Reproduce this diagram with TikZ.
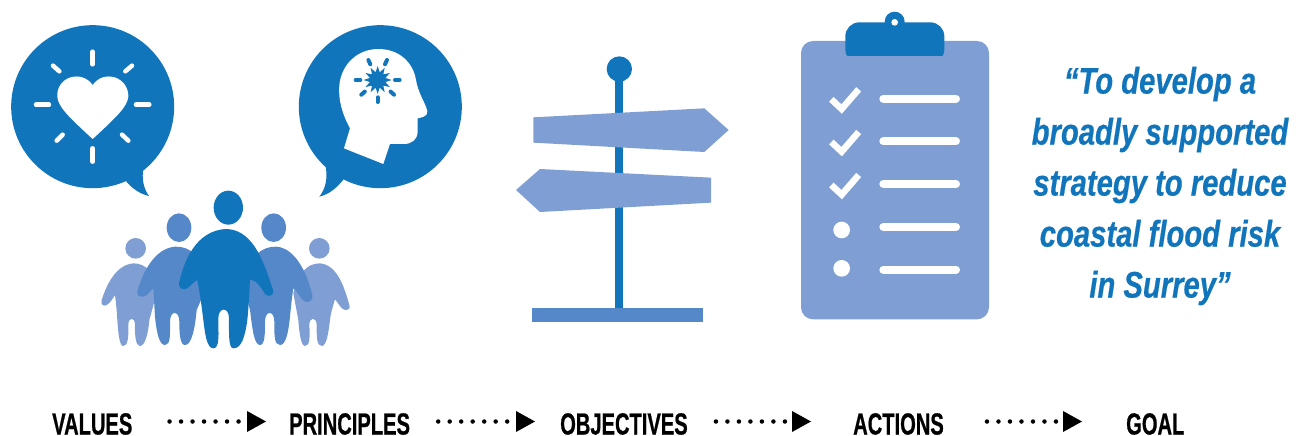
\documentclass[tikz,border=0pt]{standalone}
\usepackage{fontspec}
\setmainfont{Liberation Sans}
\newfontfamily\condfont[FakeStretch=0.66,FakeBold=0.6]{Liberation Sans}
\newfontfamily\quotefont[FakeStretch=0.79,FakeBold=0.5]{Liberation Sans}
\usetikzlibrary{arrows.meta}
\definecolor{bluedark}{HTML}{1175BC}
\definecolor{bluemid}{HTML}{5588C8}
\definecolor{bluelight}{HTML}{7F9FD4}
\tikzset{
  steplabel/.style={inner sep=0pt,anchor=base west,font=\condfont\bfseries\fontsize{30.5}{30.5}\selectfont,text=black},
  flowarrow/.style={line width=4.5pt,line cap=round,dash pattern=on 0pt off 11.5pt,black,
    -{Triangle[length=19pt,width=21pt,line width=0pt,round=false]}},
  rayline/.style={line width=4.5pt,line cap=round,white},
  starline/.style={line width=4pt,line cap=round,bluedark},
  listline/.style={line width=8pt,line cap=round,white},
  tickline/.style={line width=6.5pt,white,line join=miter},
  zoomed/.style={scale=1/3},
}
\begin{document}
\begin{tikzpicture}[x=1pt,y=-1pt]
\useasboundingbox (0,0) rectangle (1307,436);
% --- left speech bubble
\begin{scope}[zoomed]
\fill[bluedark] (278,320) circle[radius=244.5];
\fill[bluedark] (375,540) .. controls (395,565) and (420,582) .. (447,588)
  .. controls (430,565) and (425,535) .. (430,505) -- cycle;
\fill[white] (278,255) .. controls (262,232) and (235,225) .. (212,232)
  .. controls (185,240) and (170,265) .. (172,290)
  .. controls (175,320) and (200,345) .. (278,417)
  .. controls (356,345) and (381,320) .. (385,290)
  .. controls (386,265) and (370,240) .. (344,232)
  .. controls (320,225) and (294,232) .. (278,255) -- cycle;
\draw[rayline] (278,155) -- (278,193);
\draw[rayline] (278,445) -- (278,485);
\draw[rayline] (108,314) -- (147,314);
\draw[rayline] (408,314) -- (448,314);
\draw[rayline] (159,197) -- (178,214);
\draw[rayline] (396,197) -- (376,214);
\draw[rayline] (188,404) -- (170,422);
\draw[rayline] (366,404) -- (385,422);
% --- right speech bubble
\fill[bluedark] (1141,320) circle[radius=244.5];
\fill[bluedark] (1033,535) .. controls (1012,562) and (990,582) .. (958,590)
  .. controls (978,565) and (985,530) .. (975,490) -- cycle;
\fill[white] (1032,445) -- (1050,385) .. controls (1028,345) and (1014,300) .. (1018,255)
  .. controls (1025,190) and (1075,147) .. (1135,147)
  .. controls (1200,147) and (1240,190) .. (1248,240)
  .. controls (1254,280) and (1280,315) .. (1282,335)
  .. controls (1282,350) and (1265,352) .. (1253,355)
  -- (1253,395) .. controls (1252,420) and (1235,432) .. (1210,432)
  -- (1170,432) -- (1150,492) -- cycle;
\fill[bluedark] ({1133+42*cos(0)},{240+42*sin(0)}) \foreach \a in {0,30,...,330}{
  -- ({1133+42*cos(\a)},{240+42*sin(\a)}) -- ({1133+24*cos(\a+15)},{240+24*sin(\a+15)})} -- cycle;
\foreach \a in {-115,-65,0,42,90,138,180}
  \draw[starline] ({1133+52*cos(\a)},{240+52*sin(\a)}) -- ({1133+66*cos(\a)},{240+66*sin(\a)});
% --- people: outer
\fill[bluelight] (407,745) circle[radius=31];
\fill[bluelight] (958,745) circle[radius=31];
\fill[bluelight] (305,900) .. controls (318,860) and (345,795) .. (400,790)
  .. controls (440,790) and (465,820) .. (470,880) -- (448,960)
  .. controls (445,1000) and (435,1038) .. (420,1038)
  .. controls (408,1038) and (404,1010) .. (405,975)
  .. controls (405,950) and (385,950) .. (385,975)
  .. controls (386,1010) and (384,1038) .. (370,1038)
  .. controls (358,1038) and (355,1000) .. (352,960)
  .. controls (350,930) and (348,905) .. (345,885)
  .. controls (338,895) and (328,915) .. (315,917)
  .. controls (305,917) and (302,908) .. (305,900) -- cycle;
\fill[bluelight] (1048,915) .. controls (1035,870) and (1015,795) .. (960,790)
  .. controls (920,790) and (895,820) .. (880,880) -- (895,960)
  .. controls (898,1000) and (903,1038) .. (915,1038)
  .. controls (930,1038) and (930,1010) .. (928,975)
  .. controls (928,950) and (950,950) .. (950,975)
  .. controls (950,1010) and (950,1038) .. (965,1038)
  .. controls (980,1038) and (985,1000) .. (990,960)
  .. controls (993,935) and (1000,915) .. (1005,898)
  .. controls (1013,905) and (1022,928) .. (1035,930)
  .. controls (1046,930) and (1052,925) .. (1048,915) -- cycle;
% --- people: middle
\fill[bluemid] (537,683) ellipse[x radius=37,y radius=43];
\fill[bluemid] (821,683) ellipse[x radius=37,y radius=43];
\fill[bluemid] (412,875) .. controls (428,815) and (465,745) .. (525,740)
  .. controls (570,738) and (610,770) .. (625,850) -- (590,930)
  .. controls (585,985) and (575,1035) .. (555,1035)
  .. controls (540,1035) and (538,1000) .. (538,965)
  .. controls (538,930) and (510,930) .. (510,965)
  .. controls (510,1005) and (512,1035) .. (495,1035)
  .. controls (478,1035) and (470,1000) .. (465,950)
  .. controls (463,920) and (462,890) .. (460,865)
  .. controls (450,872) and (442,890) .. (428,890)
  .. controls (416,890) and (410,885) .. (412,875) -- cycle;
\fill[bluemid] (937,885) .. controls (920,815) and (885,745) .. (830,740)
  .. controls (785,738) and (745,770) .. (730,850) -- (750,930)
  .. controls (757,985) and (762,1035) .. (780,1035)
  .. controls (795,1035) and (795,1000) .. (795,965)
  .. controls (795,930) and (823,930) .. (823,965)
  .. controls (823,1005) and (822,1035) .. (840,1035)
  .. controls (857,1035) and (865,1000) .. (870,950)
  .. controls (873,920) and (876,890) .. (880,865)
  .. controls (892,872) and (905,905) .. (920,906)
  .. controls (932,906) and (939,897) .. (937,885) -- cycle;
% --- people: centre
\fill[bluedark] (685,623) ellipse[x radius=44,y radius=51];
\fill[bluedark] (537,850) .. controls (550,790) and (585,690) .. (680,687)
  .. controls (765,690) and (795,800) .. (820,872)
  .. controls (822,888) and (805,892) .. (795,882)
  .. controls (785,865) and (770,840) .. (750,838)
  .. controls (748,880) and (746,920) .. (742,960)
  .. controls (735,1010) and (725,1045) .. (700,1045)
  .. controls (685,1045) and (687,1000) .. (687,955)
  .. controls (687,920) and (655,920) .. (655,955)
  .. controls (655,1000) and (660,1045) .. (640,1045)
  .. controls (620,1045) and (615,1000) .. (610,960)
  .. controls (605,920) and (600,880) .. (592,840)
  .. controls (578,845) and (568,868) .. (553,868)
  .. controls (543,868) and (535,860) .. (537,850) -- cycle;
\end{scope}
% --- signpost
\begin{scope}[xshift=500pt,zoomed]
\fill[bluedark] (358,207) circle[radius=38];
\fill[bluedark] (345,207) rectangle (369,930);
\fill[bluemid] (97,923) rectangle (610,965);
\fill[bluelight] (100,352) -- (613,325) -- (686,390) -- (613,456) -- (100,428) -- cycle;
\fill[bluelight] (633,533) -- (120,507) -- (48,570) -- (120,636) -- (633,608) -- cycle;
% --- clipboard
\fill[bluelight,rounded corners=12pt] (903,123) rectangle (1467,958);
\fill[bluedark] (1184,65) circle[radius=30];
\fill[bluedark,rounded corners=14pt] (1036,190) -- (1036,67) -- (1333,67) -- (1333,190) -- cycle;
\fill[bluelight] (1030,168) rectangle (1340,195);
\fill[white] (1184,67) circle[radius=10];
\foreach \d in {0,128,257}
  \draw[tickline] (994,298+\d) -- (1025,327+\d) -- (1076,268+\d);
\foreach \d in {296,424,552,681,809}
  \draw[listline] (1150,\d) -- (1368,\d);
\fill[white] (1025,690) circle[radius=25];
\fill[white] (1025,805) circle[radius=25];
\end{scope}
% --- quote
\node[inner sep=0pt,align=center,text=bluedark,font=\quotefont\bfseries\itshape\fontsize{37}{51}\selectfont] (quote) at (1160,186)
  {“To develop a\\broadly supported\\strategy to reduce\\coastal flood risk\\in Surrey”};
% --- flow labels
\node[steplabel] (values) at (52,434.5) {VALUES};
\node[steplabel] (principles) at (289,434.5) {PRINCIPLES};
\node[steplabel] (objectives) at (560,434.5) {OBJECTIVES};
\node[steplabel] (actions) at (853,434.5) {ACTIONS};
\node[steplabel] (goal) at (1126,434.5) {GOAL};
% --- flow arrows
\draw[flowarrow] ([xshift=37pt]values.east |- 0,421.5) -- ([xshift=-23pt]principles.west |- 0,421.5);
\draw[flowarrow] ([xshift=28pt]principles.east |- 0,421.5) -- ([xshift=-25pt]objectives.west |- 0,421.5);
\draw[flowarrow] ([xshift=28pt]objectives.east |- 0,421.5) -- ([xshift=-42pt]actions.west |- 0,421.5);
\draw[flowarrow] ([xshift=43pt]actions.east |- 0,421.5) -- ([xshift=-44pt]goal.west |- 0,421.5);
\end{tikzpicture}
\end{document}
